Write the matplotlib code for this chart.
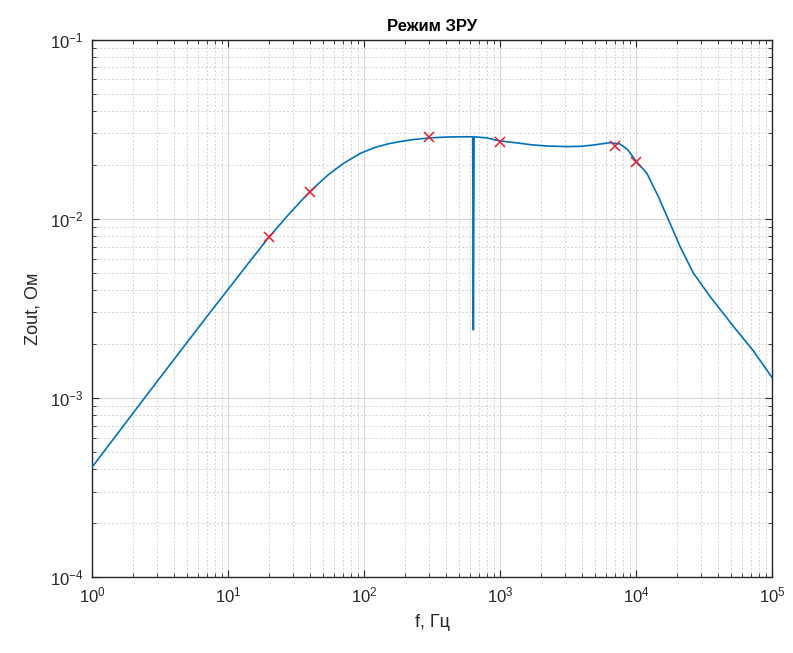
import matplotlib
matplotlib.use("Agg")
import matplotlib.pyplot as plt
from matplotlib.ticker import LogLocator, NullFormatter

plt.rcParams['font.family'] = ['Liberation Sans', 'DejaVu Sans']
plt.rcParams['mathtext.fontset'] = 'custom'
plt.rcParams['mathtext.rm'] = 'Liberation Sans'
plt.rcParams['mathtext.it'] = 'Liberation Sans'

# Output impedance versus frequency (computed model)
freq = [1, 2, 3, 5, 7, 10, 14, 20, 28, 40, 55, 70, 94, 120, 150, 184, 230,
        306, 400, 500, 630, 637, 645, 800, 1000, 1300, 1700, 2200, 3100, 4000,
        5000, 6400, 7600, 8700, 10000, 12000, 14600, 17300, 21100, 26400,
        35000, 52000, 73000, 100000]
zout = [4.1e-4, 8.2e-4, 1.23e-3, 2.04e-3, 2.85e-3, 4.03e-3, 5.6e-3, 7.9e-3,
        1.06e-2, 1.42e-2, 1.77e-2, 2.03e-2, 2.32e-2, 2.50e-2, 2.62e-2,
        2.70e-2, 2.77e-2, 2.83e-2, 2.86e-2, 2.87e-2, 2.87e-2, 2.4e-3,
        2.87e-2, 2.83e-2, 2.72e-2, 2.66e-2, 2.59e-2, 2.55e-2, 2.53e-2,
        2.54e-2, 2.59e-2, 2.66e-2, 2.62e-2, 2.43e-2, 2.10e-2, 1.80e-2,
        1.33e-2, 9.9e-3, 7.0e-3, 4.98e-3, 3.69e-3, 2.51e-3, 1.83e-3, 1.30e-3]

# Measured points
meas_f = [20, 40, 300, 1000, 7000, 10000]
meas_z = [7.9e-3, 1.42e-2, 2.86e-2, 2.70e-2, 2.55e-2, 2.07e-2]

title = "Режим ЗРУ"
xlabel = "f, Гц"
ylabel = "Zout, Ом"

fig = plt.figure(figsize=(7.93, 6.53), dpi=100)
ax = fig.add_axes([0.116, 0.1164, 0.8575, 0.8228])

ax.loglog(freq, zout, color='#0072BD', linewidth=1.2, zorder=3)
ax.plot(meas_f, meas_z, linestyle='none', marker='x', color='#E8202A',
        markersize=7, markeredgewidth=1.1, zorder=4)

ax.set_xlim(1, 1e5)
ax.set_ylim(1e-4, 1e-1)

ax.xaxis.set_major_locator(LogLocator(base=10, numticks=10))
ax.yaxis.set_major_locator(LogLocator(base=10, numticks=10))
ax.xaxis.set_minor_locator(LogLocator(base=10, subs=range(2, 10), numticks=20))
ax.yaxis.set_minor_locator(LogLocator(base=10, subs=range(2, 10), numticks=20))
ax.xaxis.set_minor_formatter(NullFormatter())
ax.yaxis.set_minor_formatter(NullFormatter())

ax.grid(True, which='major', color='#d9d9d9', linestyle='-', linewidth=0.8, zorder=0)
ax.grid(True, which='minor', color='#d4d4d4', linestyle=(0, (2, 2)), linewidth=0.7, zorder=0)
ax.set_axisbelow(True)

for s in ax.spines.values():
    s.set_color('#262626')
    s.set_linewidth(1.0)

ax.tick_params(which='both', direction='in', top=True, right=True,
               colors='#262626', labelcolor='#262626')
ax.tick_params(which='major', length=5, width=0.8, labelsize=12, pad=6)
ax.tick_params(which='minor', length=3, width=0.6)

ax.set_title(title, fontsize=12, fontweight='bold', color='black', pad=6)
ax.set_xlabel(xlabel, fontsize=13, color='#262626', labelpad=6)
ax.set_ylabel(ylabel, fontsize=13, color='#262626', labelpad=6)

fig.savefig("out.png", dpi=100, facecolor='white')
